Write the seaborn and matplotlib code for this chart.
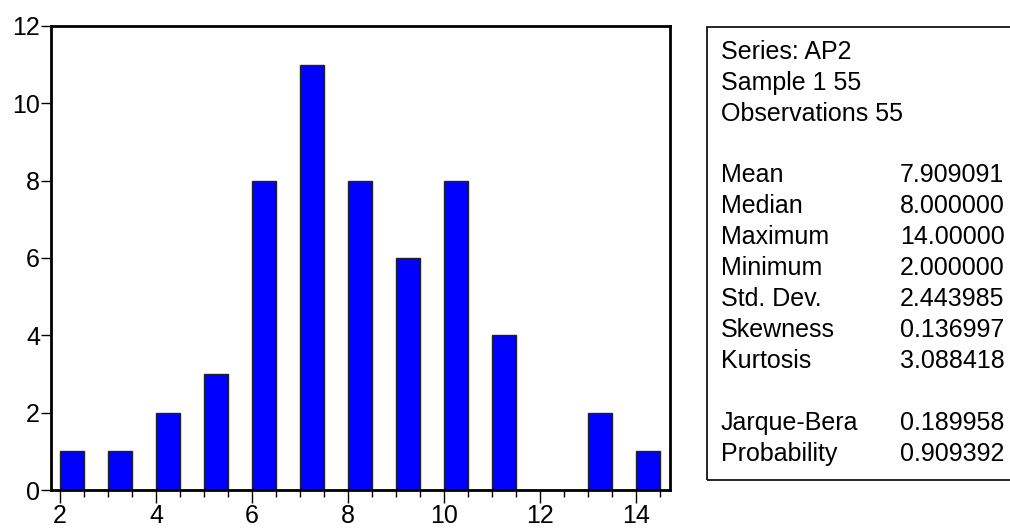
import matplotlib
matplotlib.use("Agg")
import matplotlib.pyplot as plt
import numpy as np
import pandas as pd
import seaborn as sns
from matplotlib.patches import Rectangle
from matplotlib.ticker import MultipleLocator

# histogram data
valores = [2, 3, 4, 5, 6, 7, 8, 9, 10, 11, 12, 13, 14]
contagens = [1, 1, 2, 3, 8, 11, 8, 6, 8, 4, 0, 2, 1]

cabecalho = ["Series: AP2", "Sample 1 55", "Observations 55"]
nomes_1 = ["Mean", "Median", "Maximum", "Minimum", "Std. Dev.", "Skewness", "Kurtosis"]
valores_1 = ["7.909091", "8.000000", "14.00000", "2.000000", "2.443985", "0.136997", "3.088418"]
nomes_2 = ["Jarque-Bera", "Probability"]
valores_2 = ["0.189958", "0.909392"]

sns.set_style("white")
plt.rcParams['font.family'] = ['Liberation Sans', 'DejaVu Sans']
plt.rcParams['text.color'] = 'black'
plt.rcParams['xtick.color'] = 'black'
plt.rcParams['ytick.color'] = 'black'
fs = 18

df = pd.DataFrame({"AP2": valores, "n": contagens})

fig = plt.figure(figsize=(10.1, 5.31), dpi=100)
ax = fig.add_axes([0.0505, 0.0772, 0.613, 0.874])

sns.histplot(data=df, x="AP2", weights="n", binwidth=0.5, binrange=(2, 14.5),
             color="#0000FF", alpha=1, edgecolor="#222222", linewidth=1, ax=ax)

ax.set_xlim(1.81, 14.71)
ax.set_ylim(0, 12)
ax.set_xlabel("")
ax.set_ylabel("")
ax.xaxis.set_major_locator(MultipleLocator(2))
ax.xaxis.set_minor_locator(MultipleLocator(0.5))
ax.yaxis.set_major_locator(MultipleLocator(2))
ax.tick_params(axis="x", which="major", direction="out", length=9, width=1,
               labelsize=fs, pad=1, bottom=True)
ax.tick_params(axis="x", which="minor", direction="out", length=5, width=1,
               bottom=True)
ax.tick_params(axis="y", direction="out", length=7, width=1, labelsize=fs,
               pad=1, left=True)
for s in ax.spines.values():
    s.set_linewidth(2)
    s.set_color("black")
    s.set_visible(True)

# stats box
fig.patches.append(Rectangle((707 / 1010, 51 / 531), 0.4, 453 / 531,
                             transform=fig.transFigure, fill=False,
                             edgecolor="black", linewidth=1.2))
x_nome = 721 / 1010
x_val = 900 / 1010
y0 = 52
passo = 31
for i, t in enumerate(cabecalho):
    fig.text(x_nome, 1 - (y0 + i * passo) / 531, t, fontsize=fs, va="center")
y1 = y0 + 4 * passo - 1
for i, (n, v) in enumerate(zip(nomes_1, valores_1)):
    fig.text(x_nome, 1 - (y1 + i * passo) / 531, n, fontsize=fs, va="center")
    fig.text(x_val, 1 - (y1 + i * passo) / 531, v, fontsize=fs, va="center")
y2 = y1 + 8 * passo
for i, (n, v) in enumerate(zip(nomes_2, valores_2)):
    fig.text(x_nome, 1 - (y2 + i * passo) / 531, n, fontsize=fs, va="center")
    fig.text(x_val, 1 - (y2 + i * passo) / 531, v, fontsize=fs, va="center")

fig.savefig("out.png", dpi=100)
